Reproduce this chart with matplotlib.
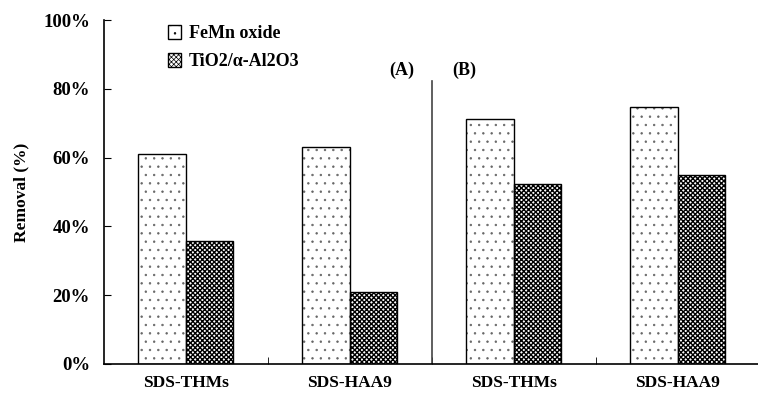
import matplotlib.pyplot as plt
import numpy as np
from matplotlib.ticker import FuncFormatter

plt.rcParams['font.family'] = ['Liberation Serif', 'DejaVu Serif']
plt.rcParams['font.weight'] = 'bold'
plt.rcParams['axes.labelweight'] = 'bold'
plt.rcParams['hatch.linewidth'] = 0.5

# removal data (%)
categories = ["SDS-THMs", "SDS-HAA9", "SDS-THMs", "SDS-HAA9"]
femn_oxide = [61.2, 63.2, 71.1, 74.8]
tio2_al2o3 = [35.8, 20.9, 52.2, 54.9]
series_names = ["FeMn oxide", "TiO2/α-Al2O3"]

x = np.arange(len(categories))
w = 0.29

fig = plt.figure(figsize=(7.58, 4.03), dpi=100)
ax = fig.add_axes([0.137, 0.097, 0.865, 0.853])

# dotted fill in grey, outline drawn on top in black
dots = ax.bar(x - w / 2, femn_oxide, w, facecolor="white", edgecolor="#666666",
              hatch="..", linewidth=0)
b1 = ax.bar(x - w / 2, femn_oxide, w, fill=False, edgecolor="black",
            linewidth=1.0)
b2 = ax.bar(x + w / 2, tio2_al2o3, w, facecolor="white", edgecolor="black",
            hatch="xxxxxxx", linewidth=1.0, label=series_names[1])
for p in dots:
    try:
        p.set_hatch_linewidth(0.5)
    except AttributeError:
        pass
for p in b2:
    try:
        p.set_hatch_linewidth(1.0)
    except AttributeError:
        pass

# legend handle for the dotted series
from matplotlib.patches import Patch
h1 = Patch(facecolor="white", edgecolor="black", hatch="..", linewidth=1.0)

ax.set_xlim(-0.5, 3.5)
ax.set_ylim(0, 100)
ax.set_yticks(np.arange(0, 101, 20))
ax.yaxis.set_major_formatter(FuncFormatter(lambda v, p: f"{v:.0f}%"))
ax.tick_params(axis="y", direction="in", length=5, labelsize=13.5, pad=10)

ax.set_xticks(x)
ax.set_xticklabels(categories, fontsize=12.5)
ax.set_xticks(np.arange(0.5, 3.5, 1), minor=True)
ax.tick_params(axis="x", which="major", length=0, pad=8)
ax.tick_params(axis="x", which="minor", direction="in", length=5)

for s in ["top", "right"]:
    ax.spines[s].set_visible(False)
ax.spines["left"].set_linewidth(1.2)
ax.spines["bottom"].set_linewidth(1.2)

ax.set_ylabel("Removal (%)", fontsize=12.5, labelpad=10)

# divider between panel A and B
ax.plot([1.5, 1.5], [0, 82.3], color="#444444", linewidth=1.2)
ax.text(1.32, 85.5, "(A)", ha="center", va="center", fontsize=13)
ax.text(1.70, 85.5, "(B)", ha="center", va="center", fontsize=13)

ax.legend([h1, b2], series_names, loc="upper left", bbox_to_anchor=(0.212, 0.955),
          bbox_transform=fig.transFigure, frameon=False, fontsize=13,
          handlelength=0.75, handleheight=0.75, handletextpad=0.4,
          labelspacing=0.6, borderaxespad=0)

fig.savefig("out.png", dpi=100)
